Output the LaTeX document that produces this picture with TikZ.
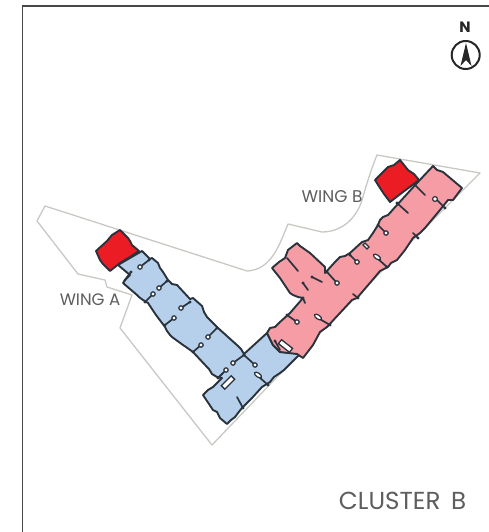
\documentclass[tikz,border=0pt]{standalone}
\usepackage{fontspec}
\setmainfont{Poppins}
\definecolor{wingblue}{HTML}{B6D0EB}
\definecolor{wingpink}{HTML}{F59CA5}
\definecolor{corered}{HTML}{EC1C24}
\definecolor{edgeink}{HTML}{2A323C}
\definecolor{sitegrey}{HTML}{C9C9C4}
\definecolor{labelgrey}{HTML}{5E5E5E}
\tikzset{
  wingshape/.style={draw=edgeink,line width=1.9pt,line join=round},
  stub/.style={draw=edgeink,line width=1.7pt,line cap=round},
  door/.style={draw=edgeink,line width=1.2pt,fill=white},
  slot/.style={draw=edgeink,line width=1.3pt,fill=white,rotate=#1,minimum width=14pt,minimum height=5pt,inner sep=0pt,shape=rectangle},
  site/.style={draw=sitegrey,line width=1.3pt,line join=round},
  lbl/.style={text=labelgrey,inner sep=0pt}
}
\newcommand{\stubdoor}[4]{\fill[edgeink] (#1,#2) circle (1.7pt); \draw[stub] (#1,#2) -- (#3,#4); \draw[door] (#3,#4) circle (2.2pt);}
\newcommand{\stubend}[4]{\fill[edgeink] (#1,#2) circle (1.7pt); \draw[stub] (#1,#2) -- (#3,#4);}
\begin{document}
\begin{tikzpicture}[x=1pt,y=-1pt]
\useasboundingbox (0,0) rectangle (489,532);
\fill[white] (0,0) rectangle (489,532);
% frame
\draw[draw=black!72,line width=1.4pt] (22.5,532) -- (22.5,6) -- (489,6);
% site boundary
\draw[site] (45,206) -- (37,221) -- (78,274) -- (105,280) -- (107,287) -- (132,295) -- (120,328) -- (212,445) -- (300,353) -- (460,193) -- (480,173) -- (377,155)
  .. controls (370,172) and (365,190) .. (362,200)
  .. controls (358,214) and (345,232) .. (322,232)
  -- (288,224)
  .. controls (280,243) and (272,270) .. (247,271)
  -- cycle;
% wing A
\draw[wingshape,fill=wingblue] (142,251) -- (150,259) -- (152,258) -- (158,263) -- (160,268) -- (163,272) -- (168,280) -- (172,284) -- (177,285) -- (190,299) -- (193,298) -- (202,306) -- (204,312) -- (207,317) -- (218,328) -- (238,346) -- (241,349) -- (244,354) -- (267,333) -- (273,345) -- (280,352) -- (295,353) -- (300,354) -- (284,370) -- (280,373) -- (274,377) -- (270,382) -- (262,387) -- (252,398) -- (242,408) -- (238,413) -- (235,417) -- (231,420) -- (227,424) -- (220,418) -- (217,412) -- (213,410) -- (203,395) -- (208,390) -- (213,387) -- (222,378) -- (217,377) -- (212,374) -- (209,369) -- (207,367) -- (193,352) -- (186,347) -- (183,345) -- (172,337) -- (170,335) -- (167,331) -- (165,327) -- (156,315) -- (148,303) -- (143,300) -- (139,297) -- (137,295) -- (123,283) -- (126,279) -- (130,275) -- (118,265) -- cycle;
% wing B
\draw[wingshape,fill=wingpink] (267,333) -- (270,328) -- (275,327) -- (280,322) -- (290,313) -- (303,298) -- (298,297) -- (293,295) -- (290,293) -- (280,278) -- (272,268) -- (279,262) -- (285,258) -- (288,250) -- (297,243) -- (300,246) -- (310,253) -- (325,267) -- (325,273) -- (335,262) -- (340,257) -- (345,256) -- (350,253) -- (362,242) -- (368,240) -- (373,233) -- (378,225) -- (380,220) -- (383,217) -- (388,215) -- (397,205) -- (417,183) -- (433,166) -- (437,170) -- (443,172) -- (462,188) -- (453,200) -- (448,200) -- (440,210) -- (425,228) -- (420,233) -- (413,238) -- (405,250) -- (397,260) -- (391,263) -- (388,267) -- (380,271) -- (375,277) -- (357,298) -- (352,300) -- (327,327) -- (320,332) -- (313,345) -- (303,358) -- (297,354) -- (280,352) -- (273,345) -- cycle;
% red cores
\draw[wingshape,fill=corered] (96,251) -- (107,241) -- (112,235) -- (120,230) -- (128,238) -- (130,241) -- (132,245) -- (139,251) -- (130,257) -- (120,263) -- (110,271) -- (103,264) -- (100,260) -- cycle;
\draw[wingshape,fill=corered] (375,180) -- (381,174) -- (388,167) -- (394,165) -- (400,160) -- (408,170) -- (414,174) -- (419,180) -- (403,192) -- (390,202) -- (384,194) -- (380,188) -- cycle;
% slots
\node[slot=45] (slotA) at (228,382.5) {};
\node[slot=-38] (slotB) at (285.5,346) {};
\draw[stub] (218,378) -- (223,373);
% blue details
\stubdoor{149}{260}{140}{267}
\stubend{131}{272}{124}{281}
\stubdoor{167}{281}{159}{288}
\stubdoor{145}{302}{153}{294}
\stubdoor{190}{302}{181}{308}
\stubdoor{165}{325}{174}{318}
\stubdoor{217}{328}{208}{337}
\stubdoor{193}{352}{201}{345}
\stubdoor{244}{355}{233}{363}
\stubdoor{244}{355}{255}{365}
\stubdoor{218}{378}{226}{370}
\stubend{243}{408}{237}{397}
\stubend{268}{385}{258}{376}
\draw[door,rotate around={-35:(258,375)}] (258,375) ellipse (4pt and 2pt);
% pink details
\stubdoor{287}{315}{297}{322}
\stubend{275}{341}{280}{350}
\stubend{330}{325}{318}{318}
\draw[door,rotate around={-35:(318,317)}] (318,317) ellipse (4pt and 2pt);
\stubend{303}{298}{305}{303}
\stubdoor{327}{272}{337}{283}
\stubdoor{350}{255}{357}{262}
\stubend{387}{267}{377}{258}
\draw[door,rotate around={-35:(377,257)}] (377,257) ellipse (4pt and 2pt);
\stubend{358}{298}{353}{294}
\draw[door] (365,243) -- (369,247) -- (367,249) -- (363,245) -- cycle;
\stubdoor{378}{225}{386}{233}
\stubend{397}{203}{408}{213}
\stubend{418}{238}{413}{233}
\stubend{415}{185}{425}{195}
\stubend{445}{208}{437}{200}
\draw[door] (435,199) circle (2.4pt);
\draw[stub] (287,258) -- (298,271);
\stubend{312}{277}{322}{282}
\stubend{303}{283}{308}{290}
% labels
\node[lbl,font=\fontsize{16.6}{17}\selectfont] (wingA) at (90,299.5) {WING A};
\node[lbl,font=\fontsize{17}{17}\selectfont] (wingB) at (332,197) {WING B};
\node[lbl,font=\fontsize{24.6}{25}\selectfont] (cluster) at (402.5,500.5) {CLUSTER\hspace{4pt} B};
% north mark
\node[inner sep=0pt,text=black!85,font=\fontsize{15}{15}\bfseries\selectfont] (north) at (465,27) {N};
\draw[draw=black!85,line width=2pt] (465.7,55) circle (14pt);
\fill[black!85] (466,43) -- (471.5,66) -- (466,60) -- (460.5,66) -- cycle;
\end{tikzpicture}
\end{document}
